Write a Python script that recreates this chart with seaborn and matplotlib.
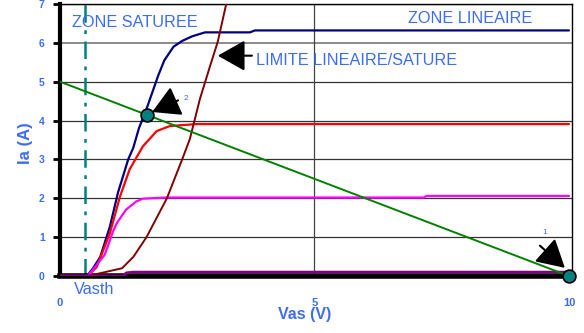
import matplotlib
matplotlib.use("Agg")
import matplotlib.pyplot as plt
import seaborn as sns
import pandas as pd

# ---- data ----
navy_x = [0, 0.53, 0.65, 0.79, 0.98, 1.14, 1.34, 1.44, 1.55, 1.7, 1.93, 2.05, 2.23, 2.4, 2.6, 2.85, 3.73, 3.83, 10]
navy_y = [0, 0, 0.2, 0.49, 1.27, 2.15, 3.0, 3.3, 3.8, 4.3, 5.16, 5.55, 5.9, 6.05, 6.17, 6.27, 6.27, 6.32, 6.32]
red_x = [0, 0.55, 0.72, 0.98, 1.18, 1.37, 1.63, 1.9, 2.16, 2.69, 10]
red_y = [0, 0, 0.23, 1.1, 2.05, 2.75, 3.34, 3.73, 3.86, 3.91, 3.91]
mag_x = [0, 0.55, 0.79, 0.88, 1.04, 1.12, 1.3, 1.5, 1.63, 2.1, 7.15, 7.2, 10]
mag_y = [0, 0, 0.4, 0.55, 1.14, 1.37, 1.71, 1.92, 1.99, 2.02, 2.02, 2.06, 2.06]
limit_x = [0.55, 1.22, 1.44, 1.7, 2.1, 2.4, 2.55, 2.75, 2.95, 3.1, 3.3]
limit_y = [0, 0.2, 0.49, 1.0, 2.0, 3.0, 3.52, 4.56, 5.41, 6.03, 7.2]
purple_x = [0, 1.24, 1.3, 1.44, 10]
purple_y = [0, 0, 0.08, 0.1, 0.1]
load_x = [0, 10]
load_y = [5, 0]
points_x = [10, 1.7]
points_y = [0, 4.15]
point_labels = ["1", "2"]
vasth = 0.49
x_ticks = [0, 5, 10]
y_ticks = [0, 1, 2, 3, 4, 5, 6, 7]

sns.set_style("white")
plt.rcParams['font.family'] = ['Liberation Sans', 'DejaVu Sans']

BLUE = '#3d6cf5'

fig = plt.figure(figsize=(5.84, 3.33), dpi=100)
ax = fig.add_axes([60/584, 1-276/333, 512/584, 272/333])
ax.set_xlim(0, 10.06)
ax.set_ylim(0, 7)

# grid
for yv in y_ticks[1:]:
    ax.axhline(yv, color='#8a8a8a' if yv == 6 else '#333333', lw=1.4 if yv == 6 else 0.9, zorder=0)
ax.axvline(5, color='#444444', lw=0.9, zorder=0)

series = [
    (navy_x, navy_y, '#000080', 1.6),
    (red_x, red_y, '#ff0000', 1.6),
    (mag_x, mag_y, '#ff00ff', 1.6),
    (limit_x, limit_y, '#800000', 1.4),
    (purple_x, purple_y, '#800080', 2.0),
]
for xs, ys, c, lw in series:
    sns.lineplot(x=xs, y=ys, ax=ax, color=c, lw=lw, sort=False, estimator=None, zorder=3)

sns.lineplot(x=load_x, y=load_y, ax=ax, color='#008000', lw=1.4, sort=False, estimator=None, zorder=4)

ax.axvline(vasth, color='#008080', lw=1.8, dashes=(7, 3, 1.5, 3), zorder=2)

sns.scatterplot(x=points_x, y=points_y, ax=ax, color='#008080', edgecolor='black',
                linewidth=1.2, s=85, zorder=6, clip_on=False)

# arrows
big = dict(arrowstyle="-|>,head_length=0.85,head_width=0.48", mutation_scale=20,
           color='black', lw=1.5, shrinkA=0, shrinkB=0)
ax.annotate("", xy=(1.81, 4.22), xytext=(2.32, 4.52), arrowprops=big, zorder=7)
ax.annotate("", xy=(9.92, 0.21), xytext=(9.43, 0.78), arrowprops=big, zorder=7)
ax.annotate("", xy=(3.1, 5.67), xytext=(3.77, 5.67), arrowprops=big, zorder=7)

ax.text(2.42, 4.56, point_labels[1], color=BLUE, fontsize=6, ha='left', va='center')
ax.text(9.47, 1.11, point_labels[0], color=BLUE, fontsize=6, ha='left', va='center')

ax.text(0.24, 6.53, "ZONE SATUREE", color=BLUE, fontsize=11.7, ha='left', va='center')
ax.text(6.84, 6.63, "ZONE LINEAIRE", color=BLUE, fontsize=11.7, ha='left', va='center')
ax.text(3.85, 5.54, "LIMITE LINEAIRE/SATURE", color=BLUE, fontsize=11.7, ha='left', va='center')
ax.text(0.27, -0.36, "Vasth", color=BLUE, fontsize=11.7, ha='left', va='center', clip_on=False)

# spines
for s in ['top', 'right']:
    ax.spines[s].set_linewidth(1.0)
    ax.spines[s].set_color('black')
ax.spines['left'].set_linewidth(3)
ax.spines['bottom'].set_linewidth(4)
ax.spines['left'].set_color('black')
ax.spines['bottom'].set_color('black')

ax.set_xticks(x_ticks)
ax.set_yticks(y_ticks)
ax.set_xticklabels([str(v) for v in x_ticks])
ax.set_yticklabels([str(v) for v in y_ticks])
ax.tick_params(axis='y', length=5, width=2, color='black', labelcolor=BLUE, labelsize=7.5, pad=6, left=True)
ax.tick_params(axis='x', length=0, labelcolor=BLUE, labelsize=8, pad=16)
for lbl in ax.get_xticklabels() + ax.get_yticklabels():
    lbl.set_fontweight('bold')

ax.set_xlabel("Vas (V)", color=BLUE, fontsize=11.5, fontweight='bold')
ax.set_ylabel("Ia (A)", color=BLUE, fontsize=12, fontweight='bold')
ax.xaxis.label.set_va('center')
ax.xaxis.set_label_coords(0.477, -0.143)
ax.yaxis.label.set_va('center')
ax.yaxis.set_label_coords(-0.068, 0.49)

fig.savefig("out.png", dpi=100)
